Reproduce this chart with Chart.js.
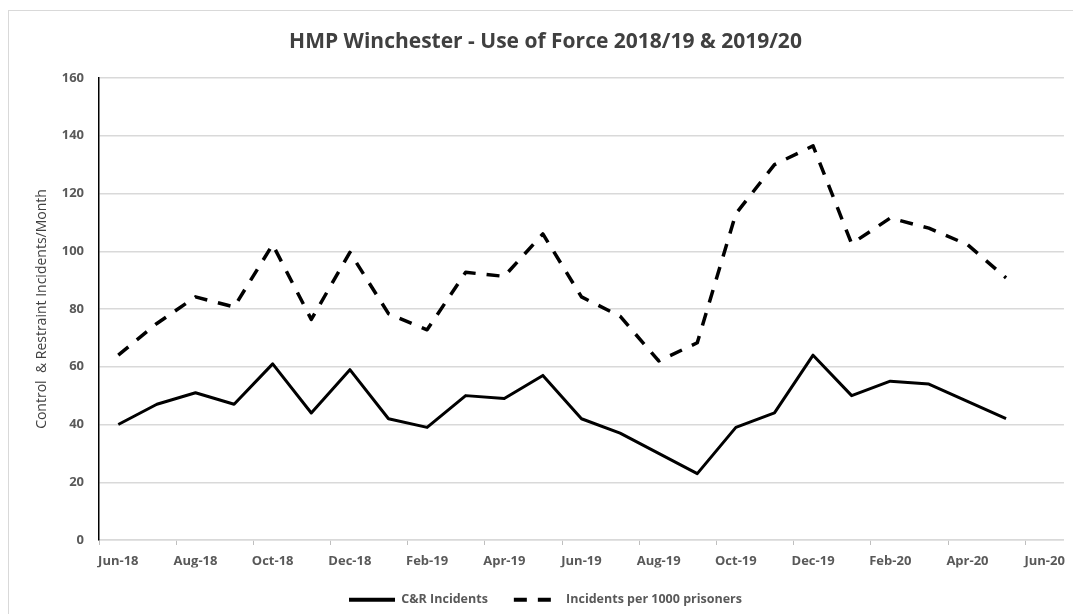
<!DOCTYPE html>
<html>
<head>
<meta charset="utf-8">
<title>HMP Winchester - Use of Force</title>
<script src="https://cdn.jsdelivr.net/npm/chart.js@4.4.1/dist/chart.umd.min.js"></script>
<style>
  html, body { margin: 0; padding: 0; background: #fff; overflow: hidden; }
  #frame {
    position: absolute; left: 8px; top: 10px; width: 2000px; height: 2000px;
    border: 1px solid #d9d9d9;
  }
  #wrap { position: absolute; left: 0; top: 0; width: 1073px; height: 614px; }
</style>
</head>
<body>
<div id="frame"></div>
<div id="wrap"><canvas id="chart-uof"></canvas></div>
<script>
/* ─── Data ──────────────────────────────────────────────────────────── */
const months = ['Jun-18','Jul-18','Aug-18','Sep-18','Oct-18','Nov-18','Dec-18','Jan-19',
                'Feb-19','Mar-19','Apr-19','May-19','Jun-19','Jul-19','Aug-19','Sep-19',
                'Oct-19','Nov-19','Dec-19','Jan-20','Feb-20','Mar-20','Apr-20','May-20','Jun-20'];

const crIncidents = [40, 47, 51, 47, 61, 44, 59, 42, 39, 50, 49, 57,
                     42, 37, 30, 23, 39, 44, 64, 50, 55, 54, 48, 42];

const per1000 = [64, 75, 84.2, 80.7, 102.3, 76.4, 99.6, 78.4, 72.8, 92.7, 91.3, 106,
                 84.2, 77.5, 62, 68.3, 113, 130, 136.5, 102.6, 111.5, 108, 102.3, 90.8];

const yTicks = { min: 0, max: 160, step: 20 };

/* ─── Styles ────────────────────────────────────────────────────────── */
const FONT = '"Open Sans", "Noto Sans", sans-serif';
const GRID = '#d9d9d9';
const TXT  = '#595959';

const ctx = document.getElementById('chart-uof');

// legend samples: keep the dataset's dash and give them a fixed thickness
function legendLabels(chart) {
  const base = Chart.defaults.plugins.legend.labels.generateLabels(chart);
  return base.map(item => {
    const ds = chart.data.datasets[item.datasetIndex];
    item.lineDash = ds.borderDash || [];
    item.lineWidth = 4;
    item.strokeStyle = '#000';
    item.fontColor = TXT;
    return item;
  });
}

new Chart(ctx, {
  type: 'line',
  data: {
    labels: months,
    datasets: [
      {
        label: 'C&R Incidents',
        data: crIncidents,
        borderColor: '#000',
        backgroundColor: '#000',
        borderWidth: 3,
        borderJoinStyle: 'round',
        pointRadius: 0,
        tension: 0,
      },
      {
        label: 'Incidents per 1000 prisoners',
        data: per1000,
        borderColor: '#000',
        backgroundColor: '#000',
        borderWidth: 3.5,
        borderDash: [13, 11],
        borderJoinStyle: 'round',
        pointRadius: 0,
        tension: 0,
      }
    ]
  },
  options: {
    responsive: true,
    maintainAspectRatio: false,
    animation: false,
    layout: { padding: { left: 24, right: 6, top: 0, bottom: -2 } },
    plugins: {
      title: {
        display: true,
        text: 'HMP Winchester - Use of Force 2018/19 & 2019/20',
        color: '#404040',
        font: { family: FONT, size: 21, weight: 'bold' },
        padding: { top: 29.4, bottom: 23.4 }
      },
      legend: {
        position: 'bottom',
        labels: {
          color: TXT,
          font: { family: FONT, size: 12.5, weight: 'bold' },
          usePointStyle: true,
          pointStyle: 'line',
          pointStyleWidth: 46,
          padding: 26,
          generateLabels: legendLabels
        }
      },
      tooltip: { enabled: false }
    },
    scales: {
      x: {
        offset: true,
        afterFit: s => { s.height = 27.5; },
        grid: {
          offset: true,
          drawOnChartArea: false,
          drawTicks: true,
          tickLength: 5,
          lineWidth: 1,
          color: c => (c.index % 2 === 0 ? '#bfbfbf' : 'rgba(0,0,0,0)')
        },
        border: { display: true, color: GRID, width: 1.5 },
        ticks: {
          autoSkip: false,
          maxRotation: 0,
          padding: 8,
          color: TXT,
          font: { family: FONT, size: 13, weight: 'bold' },
          callback: function (v, i) { return i % 2 === 0 ? this.getLabelForValue(v) : ''; }
        }
      },
      y: {
        min: yTicks.min,
        max: yTicks.max,
        afterFit: s => { s.width = 75; },
        grid: { color: GRID, lineWidth: 1.5, drawTicks: false },
        border: { display: true, color: '#000', width: 1.5 },
        ticks: {
          stepSize: yTicks.step,
          padding: 15,
          color: TXT,
          font: { family: FONT, size: 13, weight: 'bold' }
        },
        title: {
          display: true,
          text: 'Control  & Restraint Incidents/Month',
          color: '#404040',
          font: { family: FONT, size: 14, weight: 'normal' },
          padding: { top: 10, bottom: 0 }
        }
      }
    }
  }
});
</script>
</body>
</html>
